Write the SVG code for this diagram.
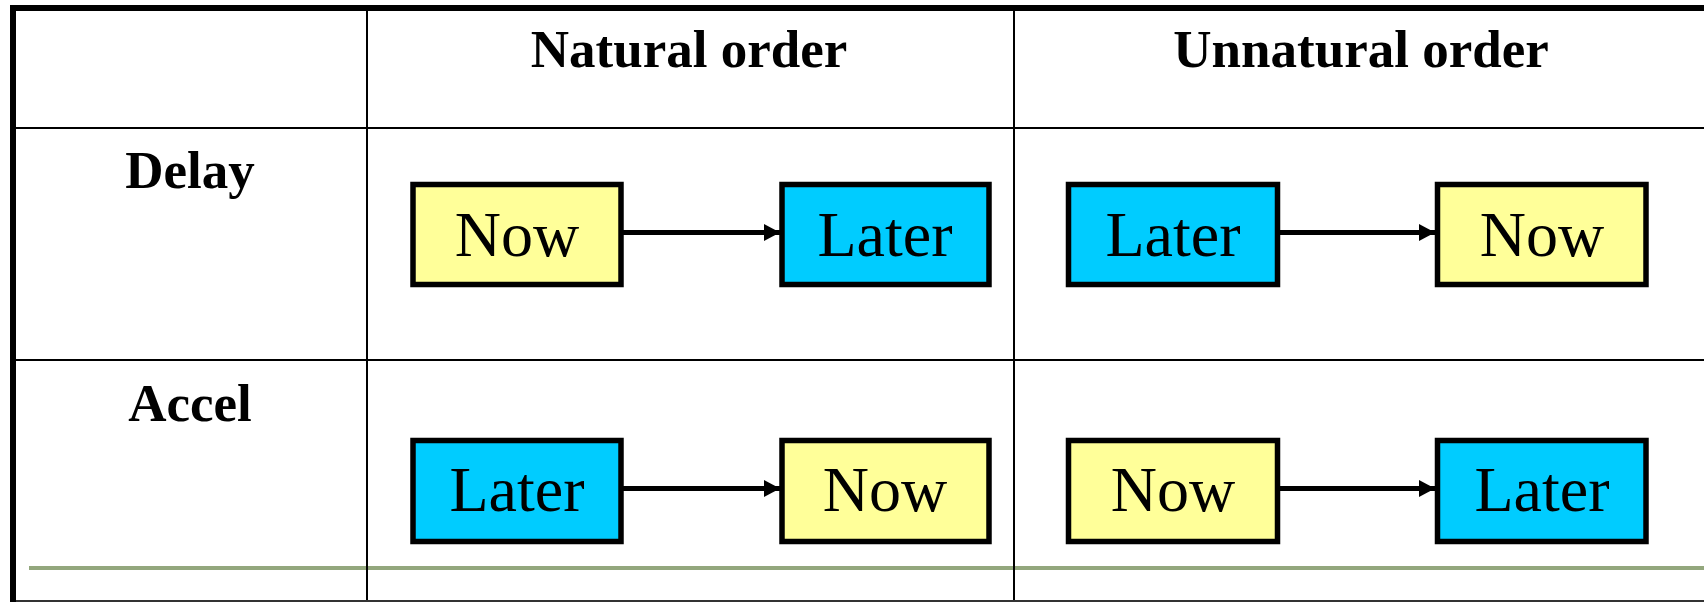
<svg xmlns="http://www.w3.org/2000/svg" width="1704" height="602" viewBox="0 0 1704 602">
  <style>
    .grid { stroke: #000; stroke-width: 2; fill: none; }
    .frame { stroke: #000; stroke-width: 6; fill: none; }
    .head { font-family: "Liberation Serif", "Times New Roman", serif; font-weight: bold; font-size: 53px; fill: #000; text-anchor: middle; }
    .box { stroke: #000; stroke-width: 5.5; }
    .now { fill: #FFFF99; }
    .later { fill: #00CCFF; }
    .lbl { font-family: "Liberation Serif", "Times New Roman", serif; font-size: 64px; fill: #000; text-anchor: middle; }
    .conn { stroke: #000; stroke-width: 5; fill: none; }
  </style>
  <defs>
    <marker id="arrow" markerUnits="userSpaceOnUse" markerWidth="17" markerHeight="18" refX="16" refY="8.5" orient="auto">
      <path d="M0,0 L16,8.5 L0,17 Z" fill="#000"/>
    </marker>
  </defs>

  <rect width="1704" height="602" fill="#fff"/>

  <!-- table grid -->
  <g id="table">
    <line x1="29" y1="568" x2="1704" y2="568" stroke="#93A77D" stroke-width="4"/>
    <line class="grid" x1="16" y1="128" x2="1704" y2="128"/>
    <line class="grid" x1="16" y1="360" x2="1704" y2="360"/>
    <line class="grid" x1="367" y1="11" x2="367" y2="602"/>
    <line class="grid" x1="1014" y1="11" x2="1014" y2="602"/>
    <line x1="16" y1="601" x2="1704" y2="601" stroke="#333" stroke-width="2"/>
    <line class="frame" x1="13" y1="5" x2="13" y2="602"/>
    <line class="frame" x1="10" y1="8" x2="1704" y2="8"/>
  </g>

  <!-- headings -->
  <g id="headings">
    <text class="head" x="689" y="67">Natural order</text>
    <text class="head" x="1361" y="67">Unnatural order</text>
    <text class="head" x="190" y="188">Delay</text>
    <text class="head" x="190" y="421">Accel</text>
  </g>

  <!-- Delay row -->
  <g id="delay-natural-now">
    <rect class="box now" x="413" y="184.5" width="208" height="100"/>
    <text class="lbl" x="517" y="256">Now</text>
  </g>
  <g id="delay-natural-later">
    <rect class="box later" x="782" y="184.5" width="207" height="100"/>
    <text class="lbl" x="885" y="256">Later</text>
  </g>
  <g id="delay-unnatural-later">
    <rect class="box later" x="1068.5" y="184.5" width="209" height="100"/>
    <text class="lbl" x="1173" y="256">Later</text>
  </g>
  <g id="delay-unnatural-now">
    <rect class="box now" x="1437.5" y="184.5" width="208.5" height="100"/>
    <text class="lbl" x="1542" y="256">Now</text>
  </g>

  <!-- Accel row -->
  <g id="accel-natural-later">
    <rect class="box later" x="413" y="440.5" width="208" height="101"/>
    <text class="lbl" x="517" y="511">Later</text>
  </g>
  <g id="accel-natural-now">
    <rect class="box now" x="782" y="440.5" width="207" height="101"/>
    <text class="lbl" x="885" y="511">Now</text>
  </g>
  <g id="accel-unnatural-now">
    <rect class="box now" x="1068.5" y="440.5" width="209" height="101"/>
    <text class="lbl" x="1173" y="511">Now</text>
  </g>
  <g id="accel-unnatural-later">
    <rect class="box later" x="1437.5" y="440.5" width="208.5" height="101"/>
    <text class="lbl" x="1542" y="511">Later</text>
  </g>

  <!-- connectors -->
  <g id="connectors">
    <line class="conn" x1="623" y1="232.5" x2="780" y2="232.5" marker-end="url(#arrow)"/>
    <line class="conn" x1="1280" y1="232.5" x2="1435" y2="232.5" marker-end="url(#arrow)"/>
    <line class="conn" x1="623" y1="488.5" x2="780" y2="488.5" marker-end="url(#arrow)"/>
    <line class="conn" x1="1280" y1="488.5" x2="1435" y2="488.5" marker-end="url(#arrow)"/>
  </g>
</svg>
